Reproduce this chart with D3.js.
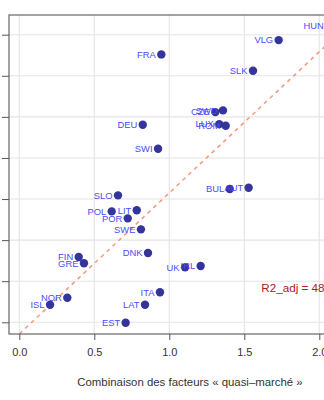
<!DOCTYPE html>
<html><head><meta charset="utf-8">
<script src="https://cdn.jsdelivr.net/npm/d3@7"></script>
<style>body{margin:0;background:#fff}svg{display:block}</style>
</head><body><svg id="c" width="324" height="400"></svg>
<script>
const countries = ["HUN","VLG","FRA","SLK","SWD","CZE","LUX","ROM","DEU","SWI","BUL","AUT","SLO","LIT","POL","POR","SWE","DNK","FIN","GRE","UK","IRL","ITA","NOR","ISL","LAT","EST"];
const xValues = [2.066,1.729,0.947,1.558,1.358,1.307,1.333,1.376,0.823,0.925,1.403,1.529,0.658,0.783,0.616,0.723,0.811,0.858,0.396,0.431,1.105,1.209,0.938,0.320,0.205,0.838,0.709];
const yValues = [2.105,1.934,1.760,1.561,1.079,1.058,0.912,0.892,0.904,0.612,0.122,0.137,0.045,-0.137,-0.150,-0.235,-0.369,-0.657,-0.706,-0.782,-0.831,-0.815,-1.135,-1.201,-1.286,-1.286,-1.505];
const xTicks = [0,0.5,1.0,1.5,2.0];
const xTickLabels = ["0.0","0.5","1.0","1.5","2.0"];
const yTicks = [-1.5,-1.0,-0.5,0,0.5,1.0,1.5,2.0];
const fitIntercept = -1.642, fitSlope = 1.717;
const r2Label = "R2_adj = 48 %";
const xTitle = "Combinaison des facteurs « quasi–marché »";

const svg = d3.select("#c");
const font = "'Liberation Sans', Arial, Helvetica, sans-serif";
const x = d3.scaleLinear().domain([0,2]).range([19.3,319.3]);
const y = d3.scaleLinear().domain([-1.5,2]).range([322.3,34.7]);
const pL = 9, pT = 15, pB = 334, pR = 345;

svg.append("rect").attr("x",pL).attr("y",pT).attr("width",pR-pL).attr("height",pB-pT).attr("fill","#fff");
svg.append("defs").append("clipPath").attr("id","cp").append("rect")
  .attr("x",pL).attr("y",pT).attr("width",pR-pL).attr("height",pB-pT);

const g = svg.append("g");
g.selectAll(".gx").data(xTicks).join("line")
  .attr("x1",d=>x(d)).attr("x2",d=>x(d)).attr("y1",pT).attr("y2",pB)
  .attr("stroke","#e4e4e4").attr("stroke-width",1.1);
g.selectAll(".gy").data(yTicks).join("line")
  .attr("y1",d=>y(d)).attr("y2",d=>y(d)).attr("x1",pL).attr("x2",pR)
  .attr("stroke","#e4e4e4").attr("stroke-width",1.1);

// regression line
svg.append("line").attr("clip-path","url(#cp)")
  .attr("x1",x(0)).attr("y1",y(fitIntercept))
  .attr("x2",x(2.3)).attr("y2",y(fitIntercept+fitSlope*2.3))
  .attr("stroke","#f79c84").attr("stroke-width",1.6).attr("stroke-dasharray","4,4");

// border
svg.append("rect").attr("x",pL).attr("y",pT).attr("width",pR-pL).attr("height",pB-pT)
  .attr("fill","none").attr("stroke","#666").attr("stroke-width",1.2);

// axes
const xAxis = d3.axisBottom(x).tickValues(xTicks).tickFormat((d,i)=>xTickLabels[i]).tickSize(6).tickSizeOuter(0).tickPadding(8);
const gx = svg.append("g").attr("transform",`translate(0,${pB})`).call(xAxis);
gx.select(".domain").remove();
gx.selectAll("line").attr("stroke","#555");
gx.selectAll("text").attr("font-family",font).attr("font-size",11).attr("fill","#333");

const yAxis = d3.axisLeft(y).tickValues(yTicks).tickFormat("").tickSize(7).tickSizeOuter(0);
const gy = svg.append("g").attr("transform",`translate(${pL},0)`).call(yAxis);
gy.select(".domain").remove();
gy.selectAll("line").attr("stroke","#555");

// points
const pts = countries.map((c,i)=>({c, x:xValues[i], y:yValues[i]}));
svg.append("g").selectAll("circle").data(pts).join("circle")
  .attr("cx",d=>x(d.x)).attr("cy",d=>y(d.y)).attr("r",4.2)
  .attr("fill","#34349b");
svg.append("g").selectAll("text").data(pts).join("text")
  .attr("x",d=>x(d.x)-5.5).attr("y",d=>y(d.y)).attr("dy","0.35em")
  .attr("text-anchor","end").attr("font-family",font).attr("font-size",9.4)
  .attr("fill","#4b4bff").text(d=>d.c);

svg.append("text").attr("x",x(1.613)).attr("y",y(-1.131))
  .attr("font-family",font).attr("font-size",11.7).attr("fill","#a52222").text(r2Label);

svg.append("text").attr("x",190).attr("y",386).attr("text-anchor","middle")
  .attr("font-family",font).attr("font-size",11.4).attr("fill","#333").text(xTitle);
</script></body></html>
